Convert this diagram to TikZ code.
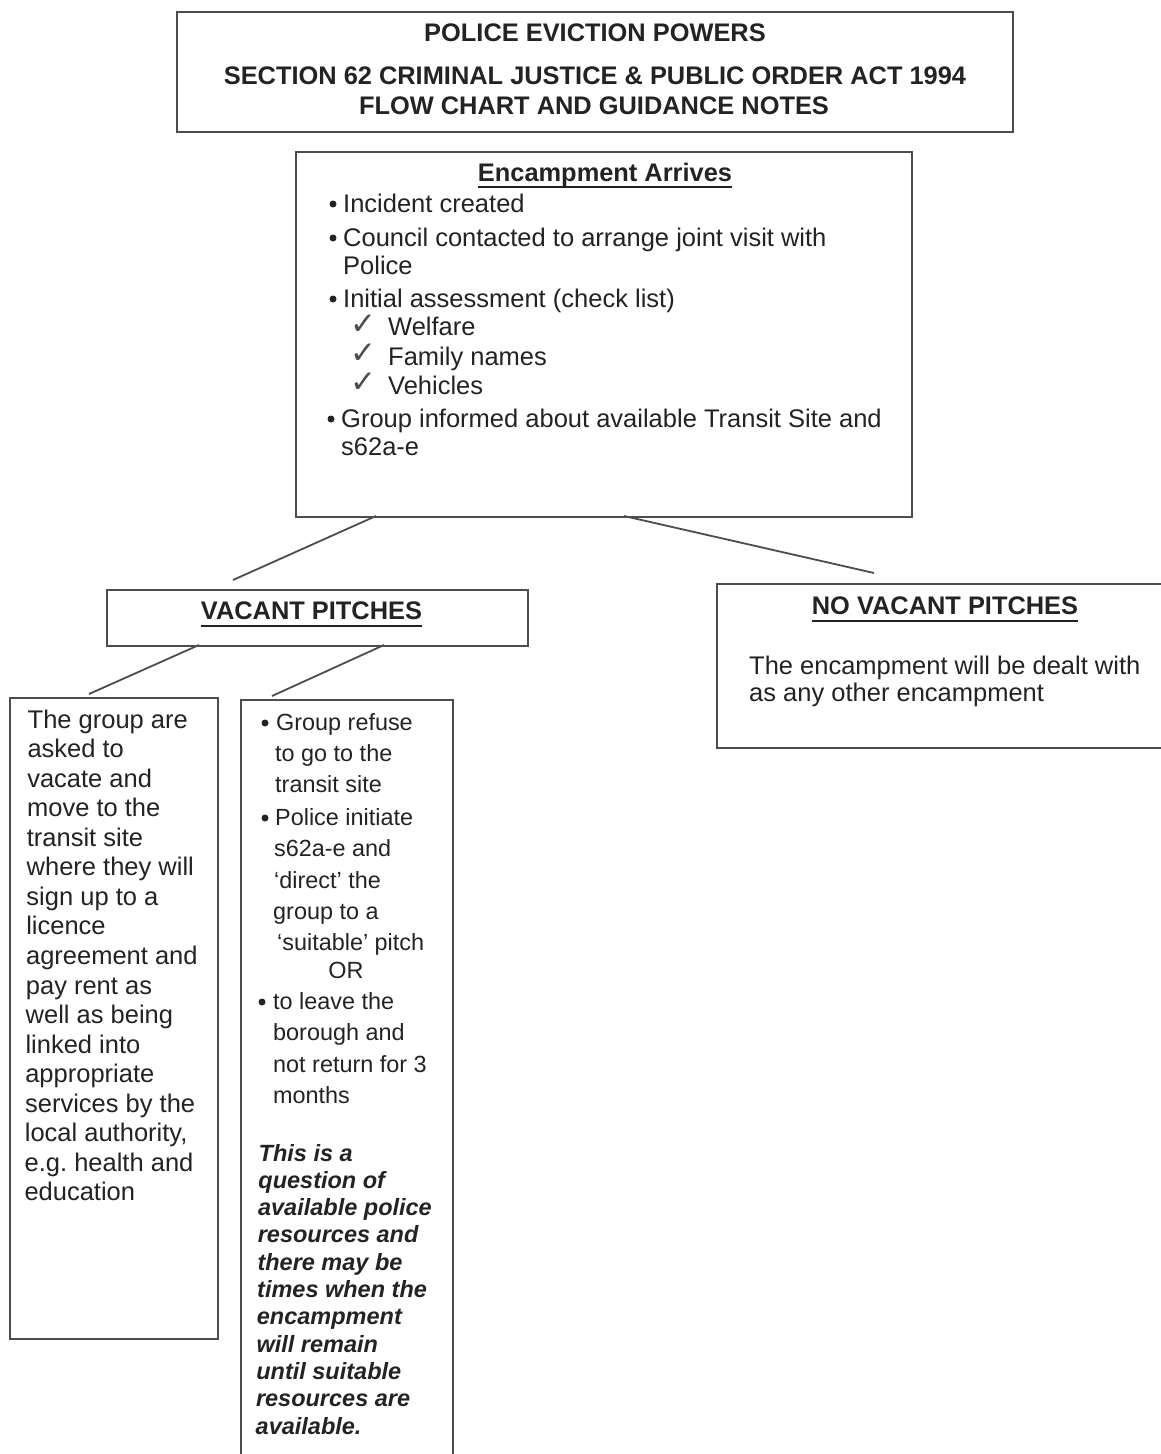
\documentclass[tikz,border=0pt]{standalone}
\usepackage{fontspec}
\setmainfont{Liberation Sans}
\newfontfamily\symfont{DejaVu Sans}
\definecolor{ink}{HTML}{232323}
\definecolor{edge}{HTML}{4D4D4D}
\begin{document}
\frenchspacing
\begin{tikzpicture}[x=1pt,y=-1pt,
  box/.style={draw=edge, line width=1.6pt, inner sep=0pt, anchor=north west},
  conn/.style={draw=edge, line width=1.8pt},
  txt/.style={inner sep=0pt, anchor=base west, text=ink, font=\fontsize{25.5}{30}\selectfont},
  stxt/.style={inner sep=0pt, anchor=base west, text=ink, font=\fontsize{23.4}{28}\selectfont},
  itxt/.style={inner sep=0pt, anchor=base west, text=ink, font=\fontsize{23.5}{28}\selectfont\bfseries\itshape},
  head/.style={inner sep=0pt, anchor=base, text=ink, font=\fontsize{25.4}{30}\selectfont\bfseries},
  dot/.style={circle, fill=ink, inner sep=0pt, minimum size=7pt},
  tick/.style={inner sep=0pt, anchor=base west, text=edge, font=\symfont\fontsize{31}{34}\selectfont},
  uline/.style={draw=ink, line width=1.7pt}]
\useasboundingbox (0,0) rectangle (1160,1454);
\fill[white] (0,0) rectangle (1160,1454);

% ---------- boxes ----------
\node[box, minimum width=836pt, minimum height=120pt] (title) at (176,11) {};
\node[box, minimum width=616pt, minimum height=365pt] (enc) at (295,151) {};
\node[box, minimum width=421pt, minimum height=56pt] (vac) at (106,589) {};
\node[box, minimum width=460pt, minimum height=164pt] (novac) at (716,583) {};
\node[box, minimum width=208pt, minimum height=641pt] (left) at (9,697) {};
\node[box, minimum width=212pt, minimum height=780pt] (mid) at (240,699) {};

% ---------- title ----------
\node[head] (t1) at (595,41) {POLICE EVICTION POWERS};
\node[head] (t2) at (595,84) {SECTION 62 CRIMINAL JUSTICE \& PUBLIC ORDER ACT 1994};
\node[head] (t3) at (594,114) {FLOW CHART AND GUIDANCE NOTES};

% ---------- encampment arrives ----------
\node[head] (eh) at (605,181) {Encampment Arrives};
\draw[uline] ([yshift=-6pt]eh.base west) -- ([yshift=-6pt]eh.base east);
\node[dot] (eb1) at (333,204) {};
\node[txt] (e1) at (343,212) {Incident created};
\node[dot] (eb2) at (333,238) {};
\node[txt] (e2) at (343,246) {Council contacted to arrange joint visit with};
\node[txt] (e3) at (343,274) {Police};
\node[dot] (eb3) at (333,299) {};
\node[txt] (e4) at (343,307) {Initial assessment (check list)};
\node[tick] (k1) at (350,334) {✓};
\node[txt] (e5) at (388,335) {Welfare};
\node[tick] (k2) at (350,363) {✓};
\node[txt] (e6) at (388,365) {Family names};
\node[tick] (k3) at (350,392) {✓};
\node[txt] (e7) at (388,394) {Vehicles};
\node[dot] (eb4) at (331,419) {};
\node[txt] (e8) at (341,427) {Group informed about available Transit Site and};
\node[txt] (e9) at (341,455) {s62a-e};

% ---------- vacant pitches ----------
\node[head] (vh) at (311.5,619) {VACANT PITCHES};
\draw[uline] ([yshift=-7pt]vh.base west) -- ([yshift=-7pt]vh.base east);

% ---------- no vacant pitches ----------
\node[head] (nh) at (945,614) {NO VACANT PITCHES};
\draw[uline] ([yshift=-7pt]nh.base west) -- ([yshift=-7pt]nh.base east);
\node[txt] (n1) at (749,674) {The encampment will be dealt with};
\node[txt] (n2) at (749,701) {as any other encampment};

% ---------- left box ----------
\foreach \t [count=\i from 0] in {The group are, asked to, vacate and, move to the,
  transit site, where they will, sign up to a, licence, agreement and, pay rent as,
  well as being, linked into, appropriate, services by the, {local authority,},
  e.g. health and, education}
  \node[txt] (l\i) at (27.5-0.2*\i, 728+29.56*\i) {\t};

% ---------- middle box ----------
\node[dot] (mb1) at (265,723) {};
\node[stxt] (m1) at (276,730) {Group refuse};
\node[stxt] (m2) at (275,761) {to go to the};
\node[stxt] (m3) at (275,792) {transit site};
\node[dot] (mb2) at (265,818) {};
\node[stxt] (m4) at (275,825) {Police initiate};
\node[stxt] (m5) at (274,856) {s62a-e and};
\node[stxt] (m6) at (274,888) {`direct' the};
\node[stxt] (m7) at (273,919) {group to a};
\node[stxt] (m8) at (277,950) {`suitable' pitch};
\node[stxt, anchor=base] (m9) at (346,978) {OR};
\node[dot] (mb3) at (262,1002) {};
\node[stxt] (m10) at (273,1009) {to leave the};
\node[stxt] (m11) at (273,1040) {borough and};
\node[stxt] (m12) at (273,1072) {not return for 3};
\node[stxt] (m13) at (273,1103) {months};
\foreach \t [count=\i from 0] in {This is a, question of, available police, resources and,
  there may be, times when the, encampment, will remain, until suitable,
  resources are, available.}
  \node[itxt] (q\i) at (258.5-0.3*\i, 1161+27.3*\i) {\t};

% ---------- connectors ----------
\coordinate (c1a) at (376,516);
\coordinate (c1b) at (233,580);
\coordinate (c2a) at (624,516);
\coordinate (c2b) at (874,573);
\coordinate (c3a) at (199,645);
\coordinate (c3b) at (89,694);
\coordinate (c4a) at (384,645);
\coordinate (c4b) at (272,696);
\draw[conn] (c1a) -- (c1b);
\draw[conn] (c2a) -- (c2b);
\draw[conn] (c3a) -- (c3b);
\draw[conn] (c4a) -- (c4b);
\end{tikzpicture}
\end{document}
